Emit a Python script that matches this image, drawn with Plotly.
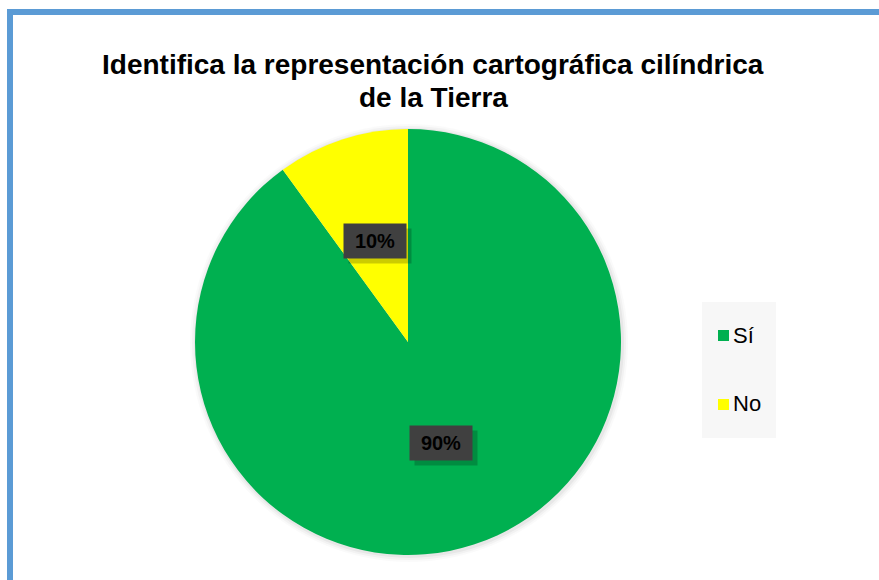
import math
import plotly.graph_objects as go

# Data
categories = ["Sí", "No"]
values = [90, 10]
colors = ["#00B050", "#FFFF00"]
title_lines = ["Identifica la representación cartográfica cilíndrica", "de la Tierra"]

W, H = 879, 580
# pie placement (pixels)
cx, cy, R = 408, 342, 213
dom_x = [(cx - R) / W, (cx + R) / W]
dom_y = [1 - (cy + R) / H, 1 - (cy - R) / H]

fig = go.Figure()
fig.add_trace(go.Pie(
    labels=categories, values=values, sort=False, direction="clockwise", rotation=0,
    marker=dict(colors=colors, line=dict(width=0)),
    textinfo="none", hoverinfo="label+percent", showlegend=False,
    domain=dict(x=dom_x, y=dom_y),
))

shapes = []
# soft shadow around the pie
for i, a in enumerate([0.02, 0.03, 0.045]):
    rr = R + 6 - 2 * i
    shapes.append(dict(type="circle", xref="paper", yref="paper", layer="below",
                       x0=(cx - rr + 1) / W, x1=(cx + rr + 1) / W,
                       y0=1 - (cy + rr + 1) / H, y1=1 - (cy - rr + 1) / H,
                       fillcolor=f"rgba(0,0,0,{a})", line=dict(width=0)))

# outer blue frame
shapes.append(dict(type="rect", xref="paper", yref="paper",
                   x0=10 / W, x1=1.05, y0=-0.05, y1=1 - 12 / H,
                   line=dict(color="#5B9BD5", width=6), fillcolor="rgba(0,0,0,0)"))

# legend box
shapes.append(dict(type="rect", xref="paper", yref="paper", layer="below",
                   x0=702 / W, x1=776 / W, y0=1 - 438 / H, y1=1 - 302 / H,
                   fillcolor="#F7F7F7", line=dict(width=0)))

annotations = []

# title, two lines
for line, ty in zip(title_lines, [65, 97]):
    annotations.append(dict(text=f"<b>{line}</b>", xref="paper", yref="paper",
                            x=433 / W, y=1 - ty / H, xanchor="center", yanchor="middle",
                            showarrow=False,
                            font=dict(family="Liberation Sans, Arial", size=28, color="#000000")))

legend_y = [335, 404]
for cat, col, ly in zip(categories, colors, legend_y):
    shapes.append(dict(type="rect", xref="paper", yref="paper",
                       x0=718 / W, x1=729 / W, y0=1 - (ly + 6) / H, y1=1 - (ly - 5) / H,
                       fillcolor=col, line=dict(width=0)))
    annotations.append(dict(text=cat, xref="paper", yref="paper", x=731 / W, y=1 - ly / H,
                            xanchor="left", yanchor="middle", showarrow=False,
                            font=dict(family="Liberation Sans, Arial", size=22, color="#000000")))

# data labels at half radius, mid-angle of each slice
total = sum(values)
start = 0.0
for v in values:
    mid = start + v / total * 360 / 2
    start += v / total * 360
    lx = cx + 0.5 * R * math.sin(math.radians(mid))
    ly = cy - 0.5 * R * math.cos(math.radians(mid))
    txt = f"<b>{round(v / total * 100)}%</b>"
    # drop shadow
    annotations.append(dict(text="", xref="paper", yref="paper",
                            x=(lx + 5) / W, y=1 - (ly + 5) / H, showarrow=False,
                            xanchor="center", yanchor="middle",
                            width=60, height=32, bgcolor="rgba(0,0,0,0.2)"))
    annotations.append(dict(text=txt, xref="paper", yref="paper",
                            x=lx / W, y=1 - ly / H, showarrow=False,
                            xanchor="center", yanchor="middle",
                            width=60, height=32, bgcolor="#404040",
                            font=dict(family="Liberation Sans, Arial", size=20, color="#000000")))

fig.update_layout(
    width=W, height=H,
    paper_bgcolor="white", plot_bgcolor="white",
    margin=dict(l=0, r=0, t=0, b=0),
    shapes=shapes, annotations=annotations,
)

fig.write_html("out.html", config={"displayModeBar": False},
               post_script="document.body.style.margin='0';")
